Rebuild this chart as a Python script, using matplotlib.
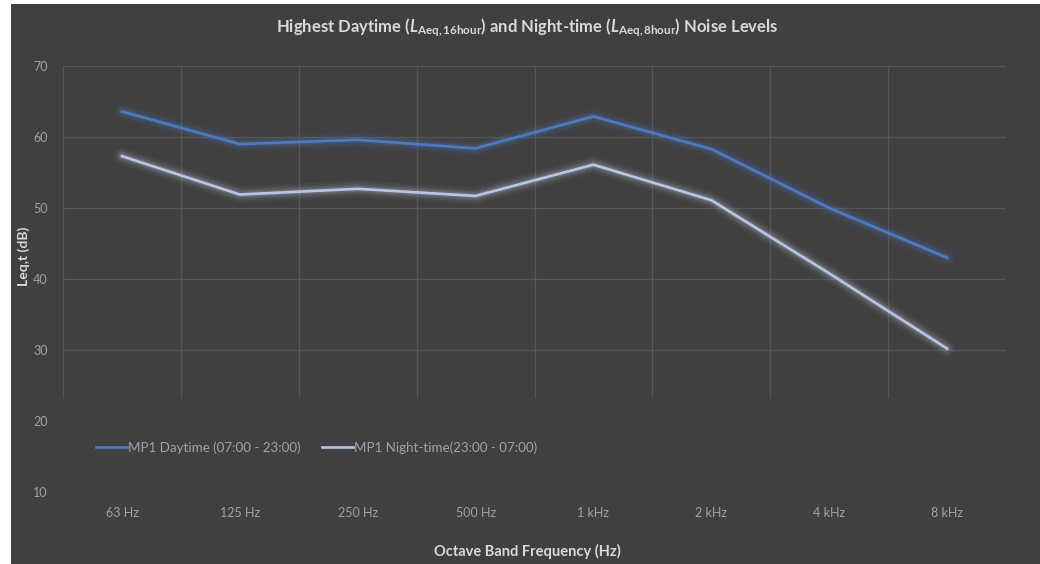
import numpy as np
import matplotlib
matplotlib.use('Agg')
import matplotlib.pyplot as plt
from matplotlib.patches import Rectangle

bands = ['63 Hz', '125 Hz', '250 Hz', '500 Hz', '1 kHz', '2 kHz', '4 kHz', '8 kHz']
daytime = [63.6, 59.0, 59.6, 58.4, 62.9, 58.3, 50.0, 43.0]
nighttime = [57.3, 51.9, 52.7, 51.7, 56.1, 51.1, 40.8, 30.2]
yticks = [10, 20, 30, 40, 50, 60, 70]
grid_rows = [30, 40, 50, 60, 70]

plt.rcParams['font.family'] = ['Lato', 'DejaVu Sans']
plt.rcParams['mathtext.fontset'] = 'custom'
plt.rcParams['mathtext.rm'] = 'Lato:bold'
plt.rcParams['mathtext.it'] = 'Lato:italic:bold'
plt.rcParams['mathtext.bf'] = 'Lato:bold'

bg = '#404040'
fig = plt.figure(figsize=(10.4, 5.64), dpi=100, facecolor='white')
fig.patches.append(Rectangle((10.5 / 1040, 0), 1, 1 - 4 / 564, transform=fig.transFigure,
                             facecolor=bg, edgecolor='none', zorder=-10))

ax = fig.add_axes([63 / 1040, 1 - 492 / 564, 943 / 1040, 426 / 564])
ax.patch.set_alpha(0)
x = np.arange(len(bands))
ax.set_xlim(-0.5, len(bands) - 0.5)
ax.set_ylim(10, 70)

# grid only covers the upper part of the plot area
grid_col = '#555555'
ax.hlines(grid_rows, -0.5, len(bands) - 0.5, color=grid_col, lw=0.9, zorder=1)
ax.vlines(np.arange(-0.5, len(bands)), 23.3, 70, color=grid_col, lw=0.9, zorder=1)

day_col = '#4a7bc4'
night_col = '#b8c6e6'
for series, col, glow in [(daytime, day_col, '#5585cc'), (nighttime, night_col, '#d0daf0')]:
    for w, a in [(12, 0.04), (9, 0.06), (6.5, 0.09), (4, 0.14)]:
        ax.plot(x, series, color=glow, lw=w, alpha=a, solid_capstyle='round',
                solid_joinstyle='round', zorder=2)
ax.plot(x, daytime, color=day_col, lw=1.9, label='MP1 Daytime (07:00 - 23:00)', zorder=3)
ax.plot(x, nighttime, color=night_col, lw=1.9, label='MP1 Night-time(23:00 - 07:00)', zorder=3)

for s in ax.spines.values():
    s.set_visible(False)
ax.set_xticks(x)
ax.set_xticklabels(bands)
ax.set_yticks(yticks)
ax.tick_params(length=0, colors='#a3a3a3', labelsize=9)
ax.tick_params(axis='x', pad=11)
ax.tick_params(axis='y', pad=11)

leg = ax.legend(loc='upper left', bbox_to_anchor=(28 / 943, (492 - 436) / 426), ncol=2,
                frameon=False, fontsize=9.6, handlelength=2.3, handletextpad=0.1,
                columnspacing=1.6, borderaxespad=0)
for t in leg.get_texts():
    t.set_color('#a3a3a3')

fig.text(527 / 1040, 1 - 28 / 564,
         r'Highest Daytime ($\mathit{L}_{\mathrm{Aeq,16hour}}$) and Night-time '
         r'($\mathit{L}_{\mathrm{Aeq,8hour}}$) Noise Levels',
         ha='center', va='center', color='#d9d9d9', fontsize=12, fontweight='bold')
fig.text(24 / 1040, 1 - 256 / 564, 'Leq,t (dB)', rotation=90, ha='center', va='center',
         color='#d9d9d9', fontsize=10, fontweight='bold')
fig.text(527 / 1040, 1 - 551 / 564, 'Octave Band Frequency (Hz)', ha='center', va='center',
         color='#d9d9d9', fontsize=10.5, fontweight='bold')

fig.savefig('out.png', dpi=100, facecolor='white')
